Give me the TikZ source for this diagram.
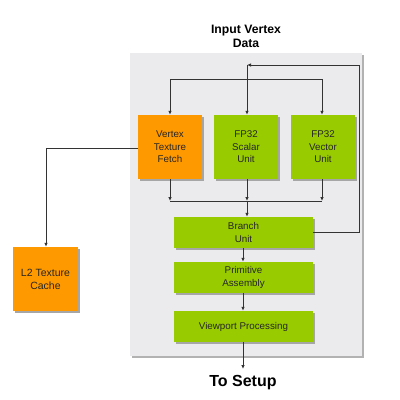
\documentclass[tikz,border=0pt]{standalone}
\usepackage{fontspec}
\setmainfont{Liberation Sans}
\usetikzlibrary{arrows.meta}
\definecolor{orng}{HTML}{FF9900}
\definecolor{grn}{HTML}{99CC00}
\definecolor{panel}{HTML}{EBEAEC}
\definecolor{lnc}{HTML}{333333}
\begin{document}
\begin{tikzpicture}[x=1pt,y=-1pt,
  unit/.style={draw=none,inner sep=0pt,align=center,font=\fontsize{9.8}{12.5}\selectfont,text=black!85},
  conn/.style={draw=lnc,line width=0.8pt},
  arr/.style={conn,-{Latex[length=4pt,width=3.5pt]}}]
\useasboundingbox (0,0) rectangle (400,400);
% panel
\fill[gray!60] (132,55) rectangle (364,358);
\fill[panel] (130,53) rectangle (362,356);
% boxes with shadow
\newcommand{\ubox}[6]{%
  \fill[black!35] (#2+1.5,#3+1.5) rectangle (#4+1.5,#5+1.5);
  \fill[#6] (#2,#3) rectangle (#4,#5);
  \coordinate (#1) at ({(#2+#4)/2},{(#3+#5)/2});}
\ubox{vtfc}{138}{115}{202}{179}{orng}
\ubox{fsc}{214}{115}{278}{179}{grn}
\ubox{fvc}{291}{115}{355}{179}{grn}
\ubox{brc}{174}{217}{313}{248}{grn}
\ubox{pac}{174}{262}{313}{293}{grn}
\ubox{vpc}{174}{311}{313}{342}{grn}
\ubox{l2c}{13}{247}{78}{311}{orng}
\node[unit,minimum width=64pt,minimum height=64pt] (vtf) at (vtfc) {Vertex\\Texture\\Fetch};
\node[unit,minimum width=64pt,minimum height=64pt] (fs) at (fsc) {FP32\\Scalar\\Unit};
\node[unit,minimum width=64pt,minimum height=64pt] (fv) at (fvc) {FP32\\Vector\\Unit};
\node[unit,minimum width=139pt,minimum height=31pt] (br) at (brc) {Branch\\Unit};
\node[unit,minimum width=139pt,minimum height=31pt] (pa) at (pac) {Primitive\\Assembly};
\node[unit,minimum width=139pt,minimum height=31pt] (vp) at (vpc) {Viewport Processing};
\node[unit,minimum width=65pt,minimum height=64pt,font=\fontsize{10.5}{13}\selectfont] (l2) at (l2c) {L2 Texture\\Cache};
% titles
\node[font=\bfseries\fontsize{12.2}{14}\selectfont,align=center] (inp) at (246,36) {Input Vertex\\Data};
\node[font=\bfseries\fontsize{16}{18}\selectfont] (setup) at (243,383) {To Setup};
% coordinates
\coordinate (topL) at (170,79);
\coordinate (topR) at (322,79);
\coordinate (loopT) at (247,65);
\coordinate (loopTR) at (359,65);
\coordinate (loopBR) at (359,232);
\coordinate (botL) at (170,201);
\coordinate (botM) at (247,201);
\coordinate (botR) at (322,201);
\coordinate (l2turn) at (46,148);
\coordinate (setupTip) at (243,369);
% top distribution
\draw[conn] (topL) -- (topR);
\draw[arr] (topL) -- (vtf.north -| topL);
\draw[arr] (topR) -- (fv.north -| topR);
\draw[arr] (loopT) -- (fs.north -| loopT);
% loop from branch
\draw[conn,-{Latex[length=4pt,width=3.5pt]}] (br.east |- loopBR) -- (loopBR) -- (loopTR) -- (loopT);
% bottom collection
\draw[arr] (vtf.south -| botL) -- (botL);
\draw[arr] (fs.south -| botM) -- (botM);
\draw[arr] (fv.south -| botR) -- (botR);
\draw[conn] (botL) -- (botR);
\draw[arr] (botM) -- (br.north -| botM);
% chain
\draw[arr] (br.south -| 243,0) -- (pa.north -| 243,0);
\draw[arr] (pa.south -| 243,0) -- (vp.north -| 243,0);
\draw[arr] (vp.south -| 243,0) -- (setupTip);
% texture fetch to L2
\draw[arr] (vtf.west |- l2turn) -- (l2turn) -- (l2.north -| l2turn);
\end{tikzpicture}
\end{document}
